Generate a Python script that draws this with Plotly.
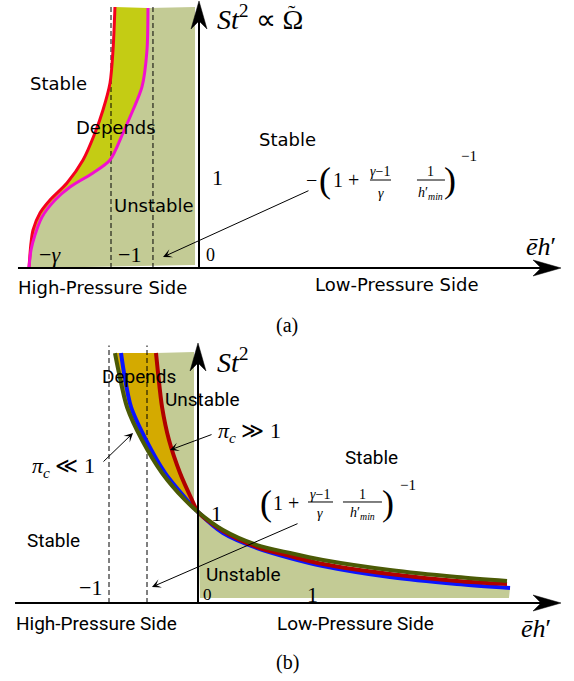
import plotly.graph_objects as go

W, H = 574, 681

# ---------------- panel (a): St^2 ~ Omega versus e h' ----------------
a_red_x = [-0.955, -0.977, -1.011, -1.091, -1.182, -1.318, -1.500, -1.693, -1.807, -1.886, -1.909, -1.932]
a_red_y = [2.966, 2.477, 2.102, 1.795, 1.534, 1.227, 0.966, 0.773, 0.625, 0.432, 0.284, 0.0]
a_mag_x = [-0.580, -0.591, -0.648, -0.750, -0.864, -1.011, -1.205, -1.466, -1.636, -1.784, -1.864, -1.909, -1.932]
a_mag_y = [2.955, 2.477, 2.057, 1.795, 1.534, 1.227, 1.080, 0.920, 0.773, 0.580, 0.375, 0.205, 0.0]
a_dash_x = [-1.0, -0.523]          # -1 and -(1+(g-1)/g/h'min)^-1
a_region = dict(right=-0.045, bottom=0.034, top=2.966, dash_top=2.99)

# ---------------- panel (b): St^2 versus e h' ----------------
b_olive_x = [-0.933, -0.888, -0.798, -0.629, -0.404, -0.146, 0.0, 0.281, 0.663, 1.034, 1.404, 2.157, 2.910, 3.472]
b_olive_y = [2.747, 2.527, 2.154, 1.791, 1.429, 1.132, 1.0, 0.802, 0.637, 0.549, 0.473, 0.363, 0.286, 0.242]
b_blue_x = [-0.865, -0.831, -0.753, -0.584, -0.371, -0.124, 0.0, 0.281, 0.663, 1.034, 1.404, 2.157, 2.910, 3.506]
b_blue_y = [2.747, 2.527, 2.154, 1.791, 1.429, 1.132, 1.0, 0.769, 0.604, 0.495, 0.407, 0.286, 0.209, 0.165]
b_red_x = [-0.472, -0.449, -0.404, -0.326, -0.202, -0.067, 0.0, 0.281, 0.663, 1.034, 1.404, 2.157, 2.910, 3.472]
b_red_y = [2.747, 2.527, 2.154, 1.791, 1.429, 1.132, 1.0, 0.791, 0.615, 0.516, 0.429, 0.319, 0.242, 0.209]
b_dash_x = [-1.0, -0.573]
b_region = dict(left_edge=-0.045, right_edge=0.022, far=3.494, bottom=0.055, top=2.758, dash_top=2.83)

LIGHT = "#c3cb95"
YGREEN = "#c4cc14"
GOLD = "#d4aa00"
SERIF = "Liberation Serif"
SANS_A = "DejaVu Sans"
SANS_B = "Roboto"

# pixel scales of the two panels (px per unit) and origin pixels
A_ORIG, A_SX, A_SY = (199, 268), 88.0, 88.0
B_ORIG, B_SX, B_SY = (198, 603), 89.0, 91.0
SPLIT = 340  # pixel row separating the panels

fig = go.Figure()


def add_fill(x, y, color, xa, ya):
    fig.add_trace(go.Scatter(x=x, y=y, fill="toself", fillcolor=color, mode="lines",
                             line=dict(width=0, color=color), hoverinfo="skip",
                             xaxis=xa, yaxis=ya, showlegend=False))


def add_curve(x, y, color, width, xa, ya, dash=None, spline=True):
    fig.add_trace(go.Scatter(x=x, y=y, mode="lines",
                             line=dict(color=color, width=width, dash=dash,
                                       shape="spline" if spline else "linear", smoothing=0.8),
                             hoverinfo="skip", xaxis=xa, yaxis=ya, showlegend=False))


# panel (a) regions
add_fill(a_mag_x + [a_region["right"], a_region["right"]],
         a_mag_y + [a_region["bottom"], a_region["top"]], LIGHT, "x", "y")
add_fill(a_red_x + a_mag_x[::-1], a_red_y + a_mag_y[::-1], YGREEN, "x", "y")
for xv in a_dash_x:
    add_curve([xv, xv], [0, a_region["dash_top"]], "black", 1, "x", "y", dash="5px,3px", spline=False)
add_curve(a_red_x, a_red_y, "#f5001e", 3, "x", "y")
add_curve(a_mag_x, a_mag_y, "#f20fcf", 3, "x", "y")

# panel (b) regions
add_fill(b_red_x[:7] + [b_region["left_edge"], b_region["left_edge"]],
         b_red_y[:7] + [b_red_y[6], b_region["top"]], LIGHT, "x2", "y2")
add_fill(b_olive_x[:7] + b_red_x[:7][::-1], b_olive_y[:7] + b_red_y[:7][::-1], GOLD, "x2", "y2")
add_fill([b_region["right_edge"]] + b_blue_x[6:] + [b_region["far"]],
         [b_region["bottom"]] + b_blue_y[6:] + [b_region["bottom"]], LIGHT, "x2", "y2")
for xv in b_dash_x:
    add_curve([xv, xv], [0, b_region["dash_top"]], "black", 1, "x2", "y2", dash="5px,3px", spline=False)
add_curve(b_blue_x, b_blue_y, "#0a14ff", 4, "x2", "y2")
add_curve(b_red_x, b_red_y, "#b00000", 4, "x2", "y2")
add_curve(b_olive_x, b_olive_y, "#4b5a05", 4, "x2", "y2")

shapes = []
annotations = []


def axis_arrows(xref, yref, x_start, x_tip, y_tip, sx, sy):
    # axis lines
    shapes.append(dict(type="line", xref=xref, yref=yref, x0=x_start, y0=0, x1=x_tip - 10 / sx, y1=0,
                       line=dict(color="black", width=2)))
    shapes.append(dict(type="line", xref=xref, yref=yref, x0=0, y0=0, x1=0, y1=y_tip - 10 / sy,
                       line=dict(color="black", width=2)))
    L, hw, notch = 28.0, 8.0, 20.0
    right = (f"M{x_tip},0 L{x_tip - L / sx},{hw / sy} L{x_tip - notch / sx},0 "
             f"L{x_tip - L / sx},{-hw / sy} Z")
    up = (f"M0,{y_tip} L{hw / sx},{y_tip - L / sy} L0,{y_tip - notch / sy} "
          f"L{-hw / sx},{y_tip - L / sy} Z")
    for p in (right, up):
        shapes.append(dict(type="path", xref=xref, yref=yref, path=p,
                           fillcolor="black", line=dict(color="black", width=0.5)))


axis_arrows("x", "y", -2.057, 4.114, 3.034, A_SX, A_SY)
axis_arrows("x2", "y2", -2.056, 4.079, 2.857, B_SX, B_SY)


def label(text, x, y, panel, size, family, xanchor="center"):
    xr, yr = ("x", "y") if panel == "a" else ("x2", "y2")
    annotations.append(dict(text=text, x=x, y=y, xref=xr, yref=yr, showarrow=False,
                            xanchor=xanchor, yanchor="middle",
                            font=dict(size=size, family=family, color="black")))


def pointer(x_from, y_from, x_tip, y_tip, panel):
    xr, yr = ("x", "y") if panel == "a" else ("x2", "y2")
    annotations.append(dict(text="", x=x_tip, y=y_tip, ax=x_from, ay=y_from, xref=xr, yref=yr,
                            axref=xr, ayref=yr, showarrow=True, arrowhead=3, arrowwidth=1,
                            arrowsize=1.5, arrowcolor="black", standoff=0))


def frac_line(x0, x1, y, panel):
    xr, yr = ("x", "y") if panel == "a" else ("x2", "y2")
    shapes.append(dict(type="line", xref=xr, yref=yr, x0=x0, x1=x1, y0=y, y1=y,
                       line=dict(color="black", width=1)))


# ---- panel (a) text ----
label("Stable", -1.591, 2.102, "a", 18, SANS_A)
label("Depends", -0.943, 1.591, "a", 18, SANS_A)
label("Unstable", -0.511, 0.705, "a", 18, SANS_A)
label("Stable", 1.011, 1.455, "a", 18, SANS_A)
label("High-Pressure Side", -1.091, -0.216, "a", 18, SANS_A)
label("Low-Pressure Side", 2.239, -0.193, "a", 18, SANS_A)
label("1", 0.205, 1.034, "a", 22, SERIF)
label("0", 0.125, 0.148, "a", 18, SERIF)
label("−<i>γ</i>", -1.693, 0.148, "a", 22, SERIF)
label("−1", -0.795, 0.148, "a", 22, SERIF)
label("<i>St</i><sup>2</sup> ∝ Ω", 0.182, 2.852, "a", 28, SERIF, xanchor="left")
label("˜", 1.057, 2.909, "a", 22, SERIF)   # tilde over Omega
label("<i>ēh</i>′", 3.886, 0.239, "a", 26, SERIF)
label("(a)", 1.0, -0.648, "a", 20, SERIF)
# -(1 + (g-1)/g * 1/h'min)^-1
label("−", 1.284, 1.0, "a", 20, SERIF)
label("(", 1.432, 1.0, "a", 36, SERIF)
label("1 +", 1.670, 1.0, "a", 20, SERIF)
label("<i>γ</i>−1", 2.057, 1.091, "a", 14, SERIF)
frac_line(1.943, 2.182, 1.0, "a")
label("<i>γ</i>", 2.068, 0.852, "a", 14, SERIF)
label("1", 2.636, 1.091, "a", 14, SERIF)
frac_line(2.477, 2.795, 1.0, "a")
label("<i>h</i>′<sub><i>min</i></sub>", 2.636, 0.852, "a", 14, SERIF)
label(")", 2.852, 1.0, "a", 36, SERIF)
label("−1", 3.068, 1.273, "a", 15, SERIF)
pointer(1.261, 0.886, -0.409, 0.125, "a")

# ---- panel (b) text ----
label("Depends", -0.663, 2.484, "b", 19, SANS_B)
label("Unstable", 0.045, 2.231, "b", 19, SANS_B)
label("Stable", -1.629, 0.692, "b", 19, SANS_B)
label("Unstable", 0.506, 0.318, "b", 19, SANS_B)
label("Stable", 1.944, 1.604, "b", 19, SANS_B)
label("High-Pressure Side", -1.135, -0.220, "b", 19, SANS_B)
label("Low-Pressure Side", 1.775, -0.220, "b", 19, SANS_B)
label("<i>π</i><sub><i>c</i></sub> ≫ 1", 0.573, 1.879, "b", 22, SERIF)
label("<i>π</i><sub><i>c</i></sub> ≪ 1", -1.506, 1.495, "b", 22, SERIF)
pointer(0.169, 1.857, -0.315, 1.681, "b")
pointer(-1.079, 1.538, -0.730, 1.868, "b")
label("−1", -1.213, 0.165, "b", 22, SERIF)
label("0", 0.112, 0.095, "b", 17, SERIF)
label("1", 0.213, 0.989, "b", 22, SERIF)
label("1", 1.281, 0.088, "b", 22, SERIF)
label("<i>St</i><sup>2</sup>", 0.191, 2.670, "b", 28, SERIF, xanchor="left")
label("<i>ēh</i>′", 3.798, -0.275, "b", 26, SERIF)
label("(b)", 1.0, -0.659, "b", 20, SERIF)
# (1 + (g-1)/g * 1/h'min)^-1
label("(", 0.764, 1.099, "b", 36, SERIF)
label("1 +", 0.989, 1.099, "b", 20, SERIF)
label("<i>γ</i>−1", 1.371, 1.187, "b", 14, SERIF)
frac_line(1.236, 1.517, 1.110, "b")
label("<i>γ</i>", 1.371, 0.989, "b", 14, SERIF)
label("1", 1.843, 1.187, "b", 14, SERIF)
frac_line(1.629, 2.067, 1.110, "b")
label("<i>h</i>′<sub><i>min</i></sub>", 1.843, 0.989, "b", 14, SERIF)
label(")", 2.135, 1.099, "b", 36, SERIF)
label("−1", 2.360, 1.297, "b", 15, SERIF)
pointer(1.135, 0.879, -0.517, 0.176, "b")

hidden = dict(visible=False, showgrid=False, zeroline=False, fixedrange=True)
dom_split = 1 - SPLIT / H
fig.update_layout(
    width=W, height=H, margin=dict(l=0, r=0, t=0, b=0),
    paper_bgcolor="white", plot_bgcolor="white", showlegend=False,
    xaxis=dict(domain=[0, 1], anchor="y",
               range=[(0 - A_ORIG[0]) / A_SX, (W - A_ORIG[0]) / A_SX], **hidden),
    yaxis=dict(domain=[dom_split, 1], anchor="x",
               range=[(A_ORIG[1] - SPLIT) / A_SY, A_ORIG[1] / A_SY], **hidden),
    xaxis2=dict(domain=[0, 1], anchor="y2",
                range=[(0 - B_ORIG[0]) / B_SX, (W - B_ORIG[0]) / B_SX], **hidden),
    yaxis2=dict(domain=[0, dom_split], anchor="x2",
                range=[(B_ORIG[1] - H) / B_SY, (B_ORIG[1] - SPLIT) / B_SY], **hidden),
    shapes=shapes, annotations=annotations,
)

fig.write_html("out.html")
